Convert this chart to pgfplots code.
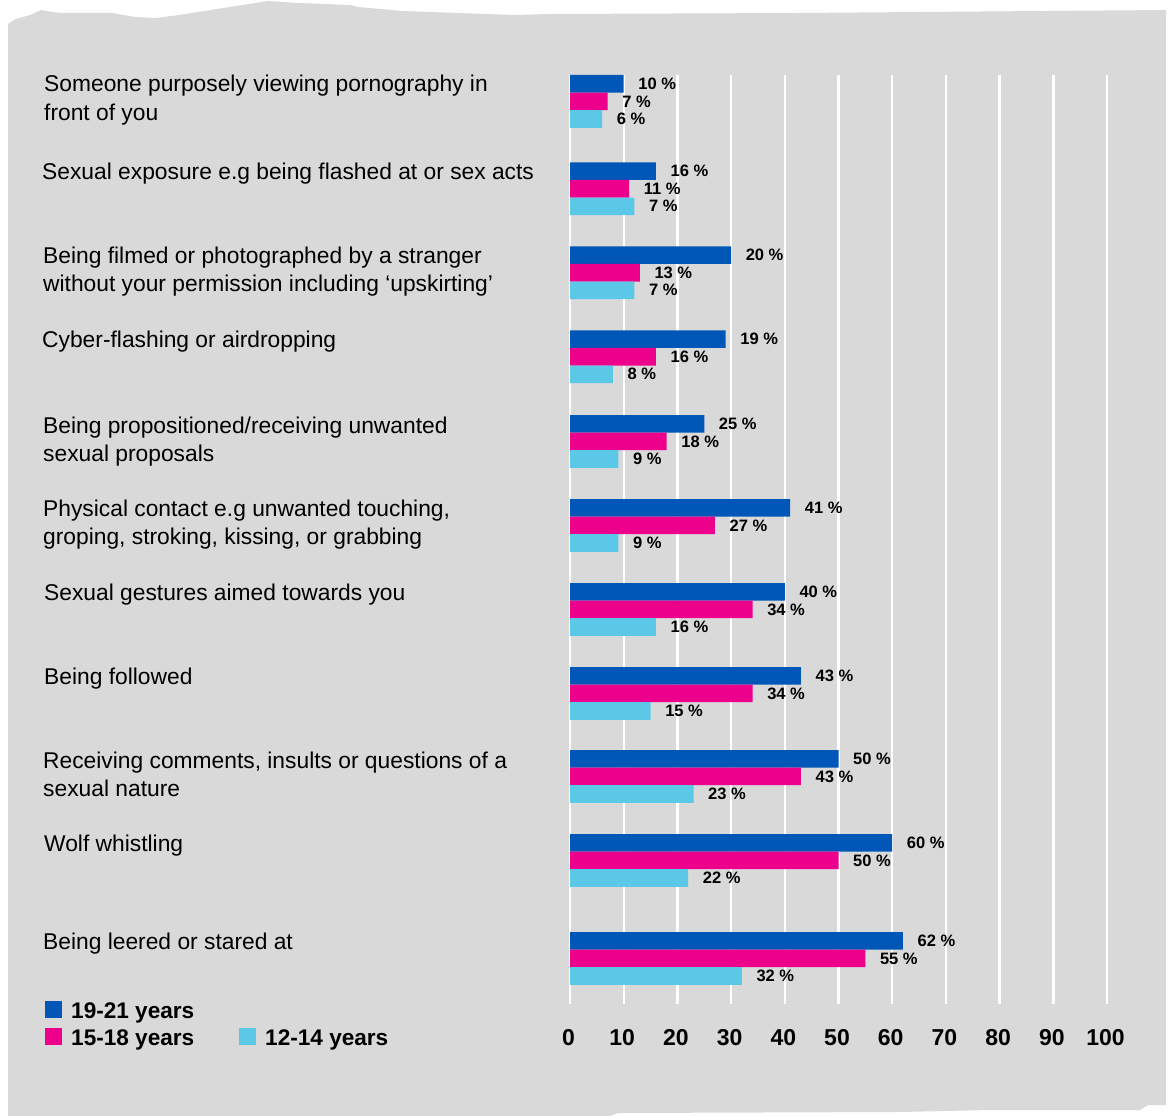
\documentclass[border=0pt]{standalone}
\usepackage{fontspec}
\setmainfont{Liberation Sans}
\usepackage{pgfplots}
\pgfplotsset{compat=1.18}
\definecolor{bg}{HTML}{D9D9D9}
\definecolor{cblue}{HTML}{0057B8}
\definecolor{cpink}{HTML}{EC008C}
\definecolor{ccyan}{HTML}{5BC8E8}
\newcommand{\catfont}{\fontsize{22.8}{27}\selectfont}
\newcommand{\legfont}{\bfseries\fontsize{22.6}{27}\selectfont}
\begin{document}
\begin{tikzpicture}
\useasboundingbox (0pt,0pt) rectangle (1168pt,-1116pt);
\fill[white] (0pt,0pt) rectangle (1168pt,-1116pt);
\fill[bg] (8pt,-1116pt) -- (8pt,-24pt) -- (16pt,-19pt) -- (30pt,-15pt) -- (41pt,-10pt) -- (52pt,-12pt) -- (63pt,-13pt)
  -- (112pt,-13pt) -- (135pt,-17pt) -- (156pt,-18pt) -- (179pt,-15pt) -- (268pt,-1pt) -- (298pt,-3pt)
  -- (350pt,-5pt) -- (358pt,-7pt) -- (402pt,-11pt) -- (514pt,-15pt) -- (551pt,-14pt) -- (797pt,-13pt)
  -- (1166pt,-10pt) -- (1166pt,-1105pt) -- (1148pt,-1105pt) -- (1140pt,-1110pt) -- (990pt,-1110pt)
  -- (900pt,-1112pt) -- (618pt,-1113pt) -- (610pt,-1116pt) -- cycle;

\begin{axis}[
  at={(570pt,-1004pt)}, anchor=south west,
  scale only axis, width=537pt, height=929pt,
  xmin=0, xmax=100, ymin=-1004, ymax=-75,
  axis line style={draw=none},
  xtick={0,10,...,100}, ytick=\empty,
  major tick length=0pt,
  xmajorgrids, grid style={white, line width=2.4pt},
  /pgf/number format/assume math mode=true,
  xticklabel style={anchor=base, yshift=-41.5pt, xshift=-1.5pt, font=\bfseries\fontsize{23}{26}\selectfont},
  xbar, bar width=17.6pt, bar shift=0pt,
  point meta=explicit,
  nodes near coords={\pgfmathprintnumber{\pgfplotspointmeta} \%},
  nodes near coords style={anchor=west, inner sep=0pt, xshift=14.5pt, text=black,
    font=\bfseries\fontsize{16.5}{18}\selectfont},
  clip=false,
]
% 19-21 years
\addplot[fill=cblue, draw=none] coordinates {
  (10,-83.8) [10] (16,-171.1) [16] (30,-255.1) [20] (29,-339.1) [19]
  (25,-423.8) [25] (41,-507.8) [41] (40,-591.8) [40] (43,-675.8) [43]
  (50,-758.8) [50] (60,-842.8) [60] (62,-940.8) [62]};
% 15-18 years
\addplot[fill=cpink, draw=none] coordinates {
  (7,-101.4) [7] (11,-188.7) [11] (13,-272.7) [13] (16,-356.7) [16]
  (18,-441.4) [18] (27,-525.4) [27] (34,-609.4) [34] (34,-693.4) [34]
  (43,-776.4) [43] (50,-860.4) [50] (55,-958.4) [55]};
% 12-14 years
\addplot[fill=ccyan, draw=none] coordinates {
  (6,-119) [6] (12,-206.3) [7] (12,-290.3) [7] (8,-374.3) [8]
  (9,-459) [9] (9,-543) [9] (16,-627) [16] (15,-711) [15]
  (23,-794) [23] (22,-878) [22] (32,-976) [32]};
\end{axis}

\begin{scope}[every node/.style={anchor=base west, inner sep=0pt, font=\catfont}]
\node at (44pt,-92pt) {Someone purposely viewing pornography in};
\node at (44pt,-120.5pt) {front of you};
\node at (42pt,-179.3pt) {Sexual exposure e.g being flashed at or sex acts};
\node at (43pt,-263.3pt) {Being filmed or photographed by a stranger};
\node at (43pt,-291.7pt) {without your permission including ‘upskirting’};
\node at (42pt,-347.3pt) {Cyber-flashing or airdropping};
\node at (43pt,-433pt) {Being propositioned/receiving unwanted};
\node at (43pt,-461.4pt) {sexual proposals};
\node at (43pt,-516.5pt) {Physical contact e.g unwanted touching,};
\node at (43pt,-544.9pt) {groping, stroking, kissing, or grabbing};
\node at (44pt,-600.5pt) {Sexual gestures aimed towards you};
\node at (44pt,-684.3pt) {Being followed};
\node at (43pt,-768pt) {Receiving comments, insults or questions of a};
\node at (43pt,-796.4pt) {sexual nature};
\node at (44pt,-851.3pt) {Wolf whistling};
\node at (43pt,-949.3pt) {Being leered or stared at};
\end{scope}

% legend
\fill[cblue] (44.5pt,-1001pt) rectangle (61.5pt,-1018pt);
\fill[cpink] (44.5pt,-1028pt) rectangle (61.5pt,-1045pt);
\fill[ccyan] (238.5pt,-1028pt) rectangle (255.5pt,-1045pt);
\begin{scope}[every node/.style={anchor=base west, inner sep=0pt, font=\legfont}]
\node at (71pt,-1018pt) {19-21 years};
\node at (71pt,-1045pt) {15-18 years};
\node at (265pt,-1045pt) {12-14 years};
\end{scope}
\end{tikzpicture}
\end{document}
